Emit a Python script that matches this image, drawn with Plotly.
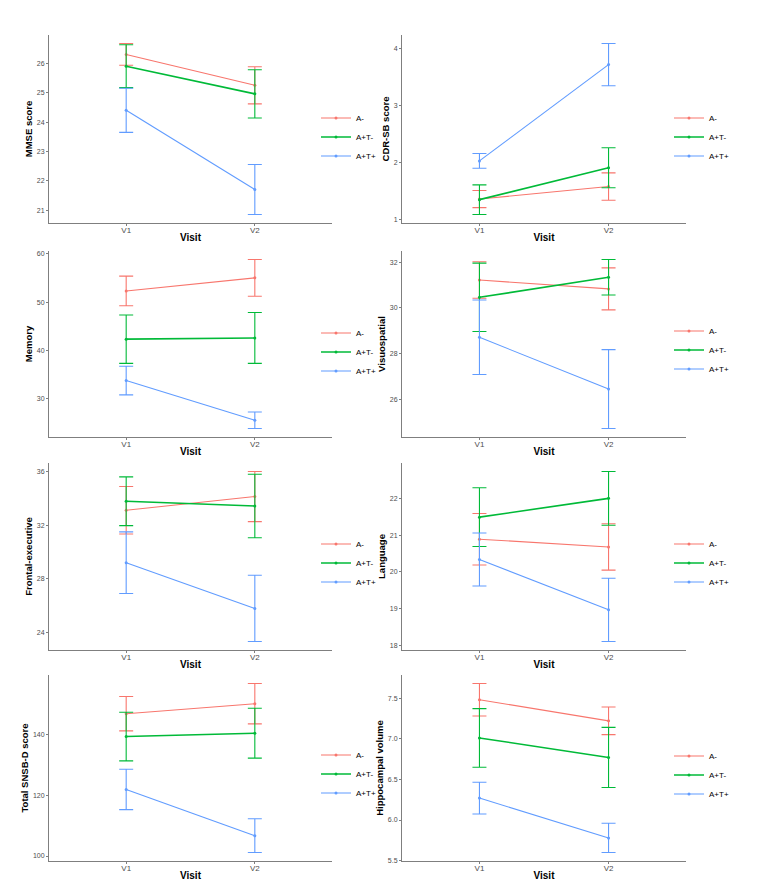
import plotly.graph_objects as go

visits = ["V1", "V2"]
groups = ["A-", "A+T-", "A+T+"]
colors = ["#F8766D", "#00BA38", "#619CFF"]

# means per group (rows: A-, A+T-, A+T+), columns: V1, V2
mmse_mean = [[26.30, 25.25], [25.90, 24.96], [24.40, 21.71]]
mmse_err = [[0.37, 0.63], [0.73, 0.82], [0.75, 0.85]]

cdr_mean = [[1.36, 1.58], [1.35, 1.91], [2.03, 3.72]]
cdr_err = [[0.15, 0.24], [0.26, 0.35], [0.13, 0.37]]

memory_mean = [[52.3, 55.0], [42.35, 42.6], [33.8, 25.6]]
memory_err = [[3.05, 3.8], [5.0, 5.25], [2.95, 1.7]]

visuo_mean = [[31.22, 30.83], [30.46, 31.34], [28.71, 26.44]]
visuo_err = [[0.80, 0.92], [1.50, 0.78], [1.63, 1.73]]

frontal_mean = [[33.11, 34.13], [33.78, 33.43], [29.19, 25.78]]
frontal_err = [[1.77, 1.87], [1.82, 2.37], [2.30, 2.47]]

language_mean = [[20.89, 20.68], [21.49, 22.00], [20.34, 18.97]]
language_err = [[0.70, 0.63], [0.80, 0.73], [0.72, 0.86]]

snsb_mean = [[146.8, 150.1], [139.3, 140.4], [121.9, 106.7]]
snsb_err = [[5.65, 6.65], [8.0, 8.2], [6.65, 5.55]]

hippo_mean = [[7.48, 7.22], [7.01, 6.77], [6.27, 5.78]]
hippo_err = [[0.20, 0.17], [0.36, 0.37], [0.195, 0.18]]

panels = [
    ("MMSE score", mmse_mean, mmse_err, 1, None),
    ("CDR-SB score", cdr_mean, cdr_err, 1, None),
    ("Memory", memory_mean, memory_err, 10, None),
    ("Visuospatial", visuo_mean, visuo_err, 2, None),
    ("Frontal-executive", frontal_mean, frontal_err, 4, None),
    ("Language", language_mean, language_err, 1, None),
    ("Total SNSB-D score", snsb_mean, snsb_err, 20, None),
    ("Hippocampal volume", hippo_mean, hippo_err, 0.5, ".1f"),
]

OFF = 8  # page body margin
W, H = 780 - 2 * OFF, 890 - OFF
col_x = [(49, 332), (402, 686)]
row_y = [(35, 223), (251, 437), (463, 650), (675, 861)]
legend_centers = [137, 137, 352, 350, 563, 563, 774, 775]
legend_x = [316, 669]


def px_x(v):
    return (v - OFF) / W


def px_y(v):
    return 1 - (v - OFF) / H


FONT = "Liberation Sans, Arial, sans-serif"
fig = go.Figure()
layout = dict(
    width=W, height=H, margin=dict(l=0, r=0, t=0, b=0),
    plot_bgcolor="white", paper_bgcolor="white",
    font=dict(family=FONT, size=8, color="#4D4D4D"),
)

for i, (title, means, errs, dtick, fmt) in enumerate(panels):
    n = i + 1
    r, c = divmod(i, 2)
    xs = "" if n == 1 else str(n)
    lg = "legend" if n == 1 else f"legend{n}"
    for g, (name, color) in enumerate(zip(groups, colors)):
        fig.add_trace(go.Scatter(
            x=visits, y=means[g], name=name, mode="lines+markers",
            line=dict(color=color, width=1.6 if g == 1 else 1.1),
            marker=dict(color=color, size=3),
            error_y=dict(type="data", array=errs[g], color=color, thickness=1.1, width=7),
            xaxis="x" + xs, yaxis="y" + xs, legend=lg,
        ))
    lo = min(m - e for row_m, row_e in zip(means, errs) for m, e in zip(row_m, row_e))
    hi = max(m + e for row_m, row_e in zip(means, errs) for m, e in zip(row_m, row_e))
    pad = (hi - lo) * 0.05
    x0, x1 = col_x[c]
    y0, y1 = row_y[r]
    layout["xaxis" + xs] = dict(
        domain=[px_x(x0), px_x(x1)], anchor="y" + xs, type="category",
        range=[-0.6, 1.6], showline=True, linecolor="#7F7F7F", linewidth=1,
        ticks="outside", ticklen=2, tickcolor="#7F7F7F", showgrid=False, zeroline=False,
        ticklabelstandoff=-3,
        tickfont=dict(size=8, color="#4D4D4D", family=FONT),
        title=dict(text="<b>Visit</b>", font=dict(size=10, color="black", family=FONT), standoff=0),
        automargin=False, fixedrange=True,
    )
    layout["yaxis" + xs] = dict(
        domain=[px_y(y1), px_y(y0)], anchor="x" + xs,
        range=[lo - pad, hi + pad], dtick=dtick, tickformat=fmt,
        showline=True, linecolor="#7F7F7F", linewidth=1,
        ticks="outside", ticklen=2, tickcolor="#7F7F7F", showgrid=False, zeroline=False,
        tickfont=dict(size=7, color="#4D4D4D", family=FONT),
        title=dict(text=f"<b>{title}</b>", font=dict(size=9.5, color="black", family=FONT), standoff=2),
        automargin=False, fixedrange=True,
    )
    layout[lg] = dict(
        x=px_x(legend_x[c]), xanchor="left", y=px_y(legend_centers[i]), yanchor="middle",
        font=dict(size=8, color="black", family=FONT), bgcolor="rgba(0,0,0,0)",
        tracegroupgap=0, itemwidth=30,
    )

fig.update_layout(**layout)
fig.write_html("out.html")
